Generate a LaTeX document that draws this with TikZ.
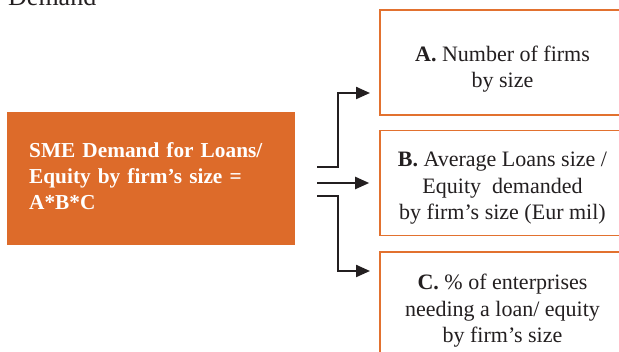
\documentclass[tikz,border=0pt]{standalone}
\usepackage{fontspec}
\setmainfont{Liberation Serif}
\usetikzlibrary{arrows.meta}
\definecolor{sbiorange}{HTML}{DD6B2A}
\definecolor{sbiline}{HTML}{E2712F}
\definecolor{sbidark}{HTML}{231F20}
\tikzset{
  factorbox/.style={draw=sbiline, line width=1.6pt, fill=white, minimum width=245pt, minimum height=105pt, inner sep=0pt},
  factortext/.style={align=center, inner sep=0pt, font=\fontsize{22}{26.7}\selectfont, text=sbidark, anchor=base},
  mainbox/.style={fill=sbiorange, minimum width=288pt, minimum height=133pt, inner sep=0pt},
  maintext/.style={anchor=base west, text width=246pt, align=left, font=\bfseries\fontsize{21.3}{26}\selectfont, text=white, inner sep=0pt},
  link/.style={draw=sbidark, line width=2.2pt, -{Triangle[length=14pt,width=12pt]}}
}
\begin{document}
\begin{tikzpicture}[x=1pt,y=-1pt]
\useasboundingbox (0,0) rectangle (619,352);
\begin{scope}
\clip (0,0) rectangle (619,352);
\node[anchor=base west, inner sep=0pt, font=\fontsize{26}{30}\selectfont, text=sbidark] (title) at (8,6) {Demand};
\node[mainbox] (main) at (151,178.5) {};
\node[maintext] (maintxt) at (29,158) {SME Demand for Loans/ Equity by firm’s size =\\A*B*C};
\node[factorbox] (A) at (502.5,62.5) {};
\node[factorbox] (B) at (502.5,183.2) {};
\node[factorbox] (C) at (502.5,304.5) {};
\node[factortext] (Atext) at (502.5,88) {\textbf{A.} Number of firms\\by size};
\node[factortext] (Btext) at (502.5,220) {\textbf{B.} Average Loans size /\\Equity\ \ demanded\\by firm’s size (Eur mil)};
\node[factortext] (Ctext) at (502.5,343) {\textbf{C.} \% of enterprises\\needing a loan/ equity\\by firm’s size};
\coordinate (s1) at (317,167);
\coordinate (s2) at (317,183);
\coordinate (s3) at (317,196);
\coordinate (tA) at (370,93);
\coordinate (tC) at (370,271);
\draw[link] (s1) -- (338,167) |- (tA);
\draw[link, shorten >=10pt] (s2) -- (s2 -| B.west);
\draw[link] (s3) -- (338,196) |- (tC);
\end{scope}
\end{tikzpicture}
\end{document}
